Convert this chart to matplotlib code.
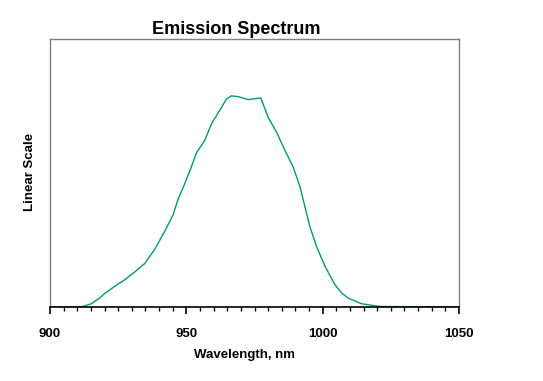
import matplotlib
matplotlib.use("Agg")
import matplotlib.pyplot as plt
from matplotlib.ticker import MultipleLocator

wavelength = [900, 908.9, 912.0, 915.1, 918.0, 920.0, 923.7, 927.3, 931.0, 934.7,
              938.4, 942.0, 945.1, 946.9, 949.4, 951.8, 953.7, 956.7, 959.2,
              962.9, 964.7, 966.5, 969.0, 972.7, 977.3, 980.0, 983.1, 986.2,
              989.2, 991.7, 993.5, 995.3, 997.8, 1000.9, 1004.5, 1007.0,
              1009.4, 1014.3, 1021.1, 1050]
intensity = [0.0, 0.0, 0.002, 0.012, 0.032, 0.050, 0.077, 0.101, 0.130, 0.162,
             0.215, 0.281, 0.343, 0.400, 0.460, 0.522, 0.575, 0.621, 0.683,
             0.745, 0.776, 0.788, 0.785, 0.774, 0.780, 0.708, 0.652, 0.584,
             0.522, 0.448, 0.374, 0.300, 0.225, 0.151, 0.083, 0.052,
             0.033, 0.012, 0.002, 0.0]
x_ticks = [900, 950, 1000, 1050]
title = "Emission Spectrum"
x_label = "Wavelength, nm"
y_label = "Linear Scale"

plt.rcParams['font.family'] = ['Liberation Sans', 'DejaVu Sans']

fig = plt.figure(figsize=(5.43, 3.81), dpi=100)
ax = fig.add_axes([0.0921, 0.1942, 0.7532, 0.7034])
ax.plot(wavelength, intensity, color="#009a6e", linewidth=1.0)
ax.set_xlim(900, 1050)
ax.set_ylim(0, 1)
ax.set_xticks(x_ticks)
ax.set_xticklabels([str(t) for t in x_ticks], fontsize=9.5, fontweight='bold')
ax.xaxis.set_minor_locator(MultipleLocator(5))
ax.tick_params(axis='x', which='major', direction='out', length=5, width=1.2,
               color='black', pad=10)
ax.tick_params(axis='x', which='minor', direction='out', length=3, width=1,
               color='black')
ax.set_yticks([])
for s in ['left', 'top', 'right']:
    ax.spines[s].set_color('#808080')
    ax.spines[s].set_linewidth(1)
ax.spines['bottom'].set_color('black')
ax.spines['bottom'].set_linewidth(1.2)

fig.text(236 / 543, 1 - 30 / 381, title, ha='center', va='center',
         fontsize=13, fontweight='bold')
fig.text(244 / 543, 1 - 355 / 381, x_label, ha='center', va='center',
         fontsize=9.5, fontweight='bold')
fig.text(30 / 543, 1 - 172 / 381, y_label, ha='center', va='center',
         fontsize=9.5, fontweight='bold', rotation=90)

fig.savefig("out.png", dpi=100)
